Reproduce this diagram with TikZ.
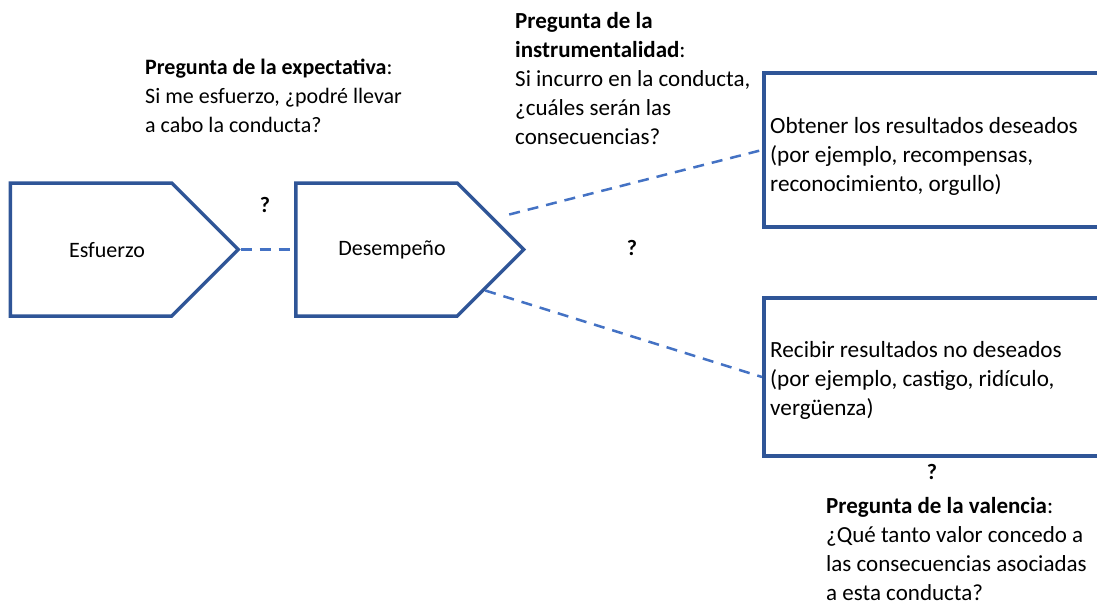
\documentclass[tikz,border=0pt]{standalone}
\usepackage{fontspec}
\setmainfont{Carlito}
\usetikzlibrary{shapes.symbols,calc}
\definecolor{darkblue}{HTML}{2F5597}
\definecolor{lightblue}{HTML}{4472C4}
\begin{document}
\begin{tikzpicture}[x=1pt,y=-1pt,
  pent/.style={draw=darkblue, line width=3.5pt, shape=signal, signal to=east, signal pointer angle=90, inner sep=0pt, minimum height=133pt, minimum width=228pt},
  obox/.style={draw=darkblue, line width=3.5pt, rectangle, inner sep=0pt},
  link/.style={draw=lightblue, line width=2.5pt, dash pattern=on 11pt off 8pt},
  txt/.style={font=\fontsize{22}{29}\selectfont, align=left, anchor=base west, inner sep=0pt},
  btxt/.style={txt, font=\fontsize{23.2}{29}\selectfont},
  mtxt/.style={txt, font=\fontsize{23}{29}\selectfont},
  qm/.style={font=\fontsize{22}{24}\selectfont\bfseries, inner sep=0pt}
]
\useasboundingbox (0,0) rectangle (1097,602);
\clip (0,0) rectangle (1097,602);
\fill[white] (0,0) rectangle (1097,602);

\node[pent] (esf) at (91,249.5) {};
\node[pent] (des) at (376.5,249.5) {};
\node[txt, anchor=center] (esft) at (107,250) {Esfuerzo};
\node[txt, anchor=center] (dest) at (392,250) {Desempeño};

\node[obox, minimum width=360pt, minimum height=154pt, anchor=west] (ob1) at (762,150) {};
\node[obox, minimum width=360pt, minimum height=158pt, anchor=west] (ob2) at (762,377) {};

\coordinate (u1) at ($(des.east)+(-17,-35)$);
\coordinate (l1) at ($(des.east)+(-41,41)$);
\draw[link] (esf.east) -- (des.west);
\draw[link] (u1) -- (ob1.west);
\draw[link] (l1) -- (ob2.west);

\node[qm] (q1) at (265,205) {?};
\node[qm] (q2) at (632,248) {?};
\node[qm] (q3) at (932,472) {?};

\node[txt] (expt) at (145,132) {\textbf{Pregunta de la expectativa}:\\Si me esfuerzo, ¿podré llevar\\a cabo la conducta?};
\node[mtxt] (inst) at (515,144) {\textbf{Pregunta de la}\\\textbf{instrumentalidad}:\\Si incurro en la conducta,\\¿cuáles serán las\\consecuencias?};
\node[btxt] (b1t) at (770,191) {Obtener los resultados deseados\\(por ejemplo, recompensas,\\reconocimiento, orgullo)};
\node[btxt] (b2t) at (770,415) {Recibir resultados no deseados\\(por ejemplo, castigo, ridículo,\\vergüenza)};
\node[mtxt] (valt) at (826,600) {\textbf{Pregunta de la valencia}:\\¿Qué tanto valor concedo a\\las consecuencias asociadas\\a esta conducta?};
\end{tikzpicture}
\end{document}
